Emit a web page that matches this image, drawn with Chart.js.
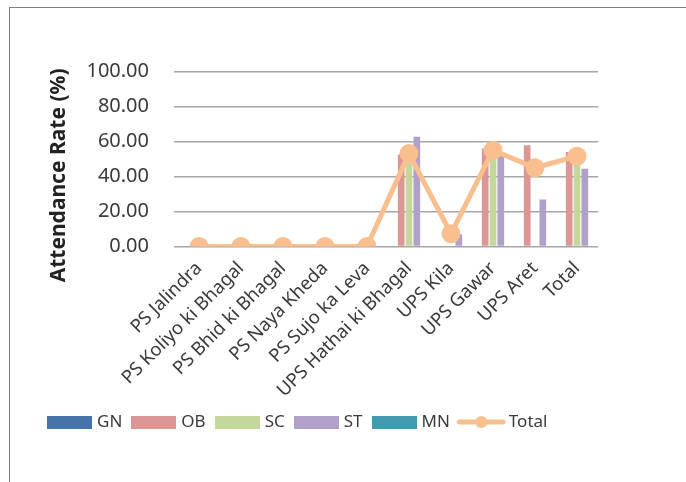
<!DOCTYPE html>
<html lang="en">
<head>
    <meta charset="UTF-8">
    <title>Attendance Rate</title>
    <script src="https://cdn.jsdelivr.net/npm/chart.js@4.4.0/dist/chart.umd.min.js"></script>
    <style>
        body { margin: 0; background: #fff; }
        #wrap { position: relative; width: 686px; height: 482px; overflow: hidden; }
        #frame { position: absolute; left: 9px; top: 7px; width: 720px; height: 520px;
                 border-left: 1.5px solid #808080; border-top: 1.5px solid #808080; }
        canvas { position: absolute; left: 0; top: 0; }
    </style>
</head>
<body>
<div id="wrap">
    <div id="frame"></div>
    <canvas id="myChart" width="686" height="482"></canvas>
</div>
<script>
    // chart data
    const schools = ["PS Jalindra", "PS Koliyo ki Bhagal", "PS Bhid ki Bhagal", "PS Naya Kheda",
        "PS Sujo ka Leva", "UPS Hathai ki Bhagal", "UPS Kila", "UPS Gawar", "UPS Aret", "Total"];
    const gn = [0, 0, 0, 0, 0, 0, 0, 0, 0, 0];
    const ob = [0, 0, 0, 0, 0, 52.6, 0, 56, 57.8, 54];
    const sc = [0, 0, 0, 0, 0, 48, 0, 55, 0, 50];
    const st = [0, 0, 0, 0, 0, 62.7, 7, 52.6, 26.8, 44.4];
    const mn = [0, 0, 0, 0, 0, 0, 0, 0, 0, 0];
    const total = [0, 0, 0, 0, 0, 53.2, 7.3, 55, 45, 51.6];
    const yTicks = [0, 20, 40, 60, 80, 100];

    const font = "'Noto Sans', sans-serif";
    const textColor = "#3a3a3a";
    const lineColor = "#f9bf8f";

    // legend swatches
    function boxImg(color) {
        const c = document.createElement("canvas");
        c.width = 45; c.height = 13;
        const g = c.getContext("2d");
        g.fillStyle = color;
        g.fillRect(0, 0, 45, 13);
        return c;
    }
    function lineImg(color) {
        const c = document.createElement("canvas");
        c.width = 50; c.height = 16;
        const g = c.getContext("2d");
        g.strokeStyle = color; g.lineWidth = 5; g.lineCap = "round";
        g.beginPath(); g.moveTo(3, 8); g.lineTo(47, 8); g.stroke();
        g.fillStyle = color;
        g.beginPath(); g.arc(25, 8, 6, 0, Math.PI * 2); g.fill();
        return c;
    }

    function bar(label, data, color) {
        return {
            type: 'bar', label: label, data: data, backgroundColor: color,
            order: 1, categoryPercentage: 0.93, barPercentage: 0.86,
            legendImg: boxImg(color)
        };
    }

    const ctx = document.getElementById('myChart').getContext('2d');
    const myChart = new Chart(ctx, {
        data: {
            labels: schools,
            datasets: [
                bar("GN", gn, "#4673a8"),
                bar("OB", ob, "#dc9694"),
                bar("SC", sc, "#c4d89b"),
                bar("ST", st, "#b1a1c8"),
                bar("MN", mn, "#4399b0"),
                {
                    type: 'line', label: "Total", data: total, order: 0,
                    borderColor: lineColor, backgroundColor: lineColor,
                    borderWidth: 5, pointRadius: 9.5, pointHoverRadius: 9.5,
                    pointBorderWidth: 0, tension: 0,
                    legendImg: lineImg(lineColor)
                }
            ]
        },
        options: {
            responsive: false,
            animation: false,
            layout: { padding: { left: 0, right: 88, top: 71.5, bottom: 41.5 } },
            plugins: {
                tooltip: { enabled: false },
                legend: {
                    position: 'bottom',
                    labels: {
                        usePointStyle: true,
                        pointStyleWidth: 38,
                        padding: 12.5,
                        color: textColor,
                        font: { family: font, size: 17 },
                        generateLabels: function (chart) {
                            return chart.data.datasets.map((d, i) => ({
                                text: d.label,
                                pointStyle: d.legendImg,
                                datasetIndex: i,
                                fontColor: textColor,
                                lineWidth: 0,
                                hidden: false
                            }));
                        }
                    }
                }
            },
            scales: {
                x: {
                    grid: { display: false, drawTicks: false },
                    border: { display: false },
                    ticks: {
                        color: textColor, minRotation: 45, maxRotation: 45, padding: 11,
                        autoSkip: false,
                        font: { family: font, size: 18.5 }
                    },
                    afterFit: function (scale) { scale.height = 154.5; }
                },
                y: {
                    min: 0, max: 100,
                    afterBuildTicks: function (scale) {
                        scale.ticks = yTicks.map(v => ({ value: v }));
                    },
                    grid: { color: "#a6a6a6", lineWidth: 1.5, tickLength: 4 },
                    border: { display: false },
                    ticks: {
                        color: textColor, padding: 25,
                        font: { family: font, size: 20 },
                        callback: function (value) { return value.toFixed(2); }
                    },
                    title: {
                        display: true,
                        text: "Attendance Rate (%)      ",
                        color: "#222",
                        padding: { top: 46, bottom: 0 },
                        font: { family: font, size: 21, weight: 'bold' }
                    },
                    afterFit: function (scale) { scale.width = 178; }
                }
            }
        }
    });
</script>
</body>
</html>
